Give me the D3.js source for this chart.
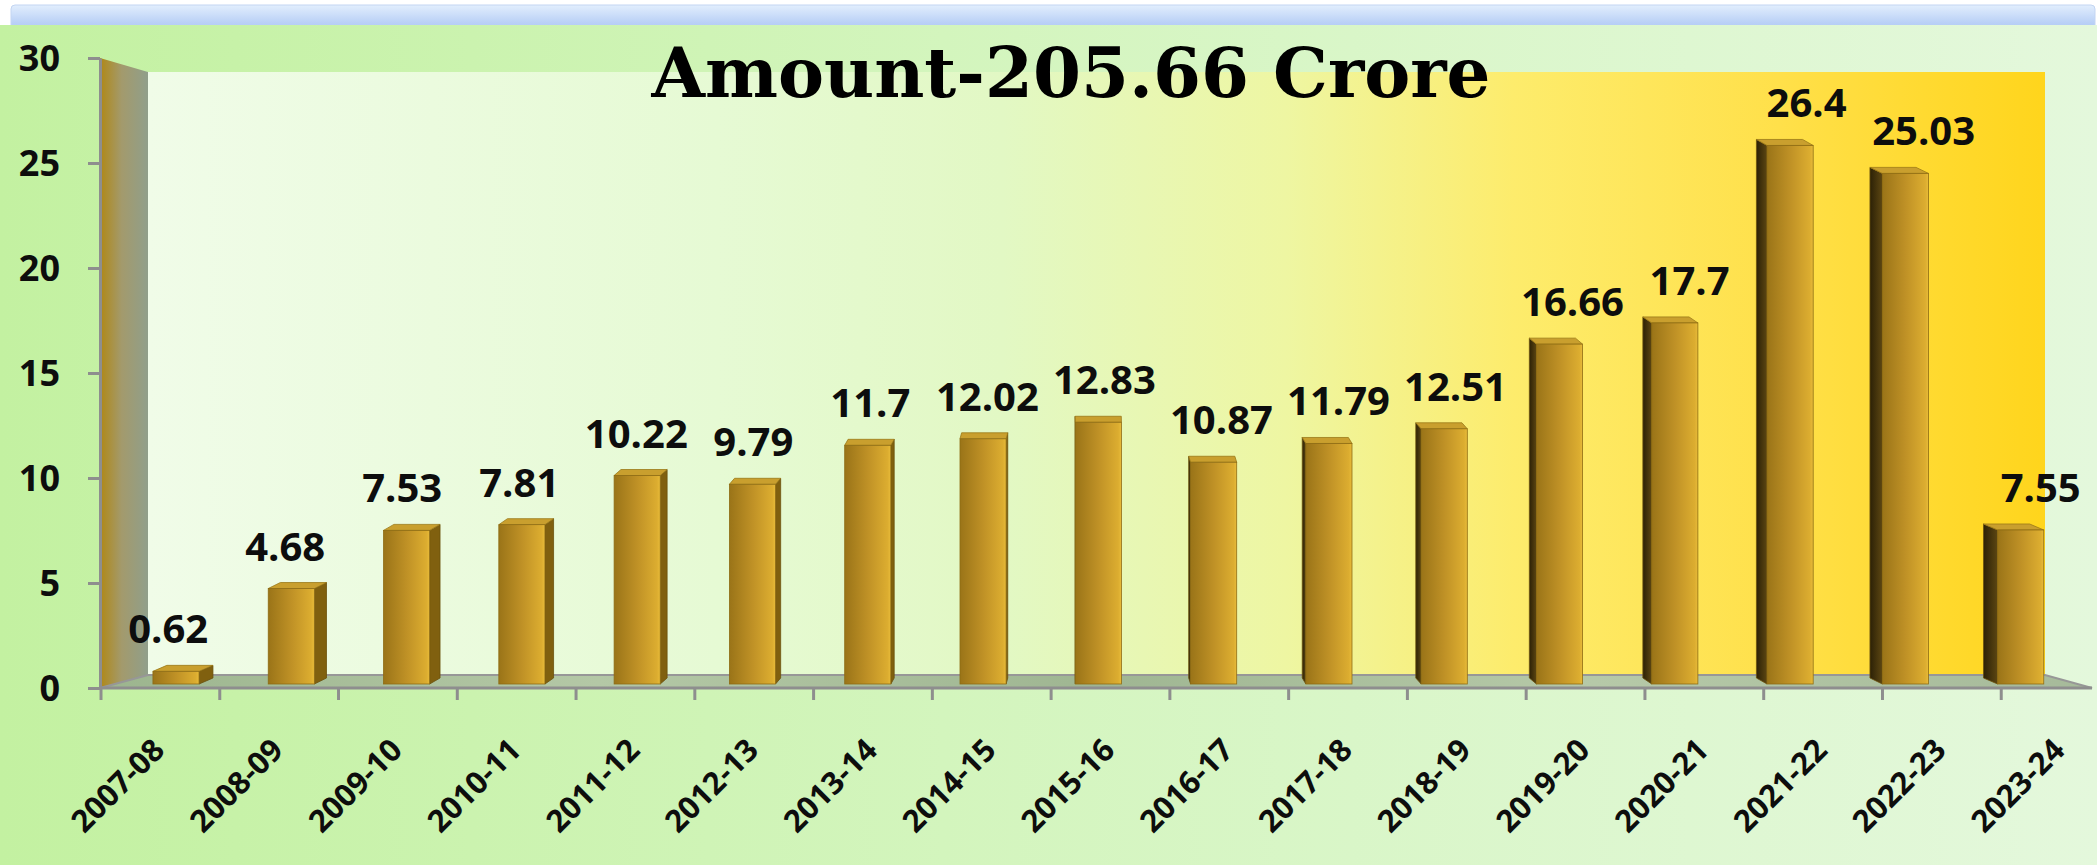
<!DOCTYPE html>
<html>
<head>
<meta charset="utf-8">
<script src="https://cdn.jsdelivr.net/npm/d3@7"></script>
<style>
    body { margin: 0; background: #ffffff; overflow: hidden; }
    .tick-label, .bar-label { font-family: "Open Sans", "Noto Sans", sans-serif; font-weight: 700; fill: #0d0d0d; }
    .chart-title { font-family: "DejaVu Serif", serif; font-weight: 700; fill: #000; }
</style>
</head>
<body>
<div id="chart"></div>
<script>
const years = ["2007-08", "2008-09", "2009-10", "2010-11", "2011-12", "2012-13", "2013-14", "2014-15", "2015-16",
    "2016-17", "2017-18", "2018-19", "2019-20", "2020-21", "2021-22", "2022-23", "2023-24"];
const amounts = [0.62, 4.68, 7.53, 7.81, 10.22, 9.79, 11.7, 12.02, 12.83, 10.87, 11.79, 12.51, 16.66, 17.7, 26.4, 25.03, 7.55];
const yTicks = [0, 5, 10, 15, 20, 25, 30];
const chartTitle = "Amount-205.66 Crore";

class Column3DChart {
    constructor(_config, _data) {
        this.config = _config;
        this.data = _data;
        this.InitVis();
    }

    AddGradient(id, stops, x2 = "100%", y2 = "0%") {
        const grad = this.defs.append("linearGradient")
            .attr("id", id)
            .attr("x1", "0%").attr("y1", "0%")
            .attr("x2", x2).attr("y2", y2);
        stops.forEach(([o, c]) => grad.append("stop").attr("offset", o).attr("stop-color", c));
    }

    InitVis() {
        const vis = this;

        vis.width = vis.config.width;
        vis.height = vis.config.height;

        vis.svg = d3.select(vis.config.parentElement).append("svg")
            .attr("width", vis.width)
            .attr("height", vis.height);

        vis.defs = vis.svg.append("defs");
        vis.AddGradient("blueStrip", [[0, "#e2eefd"], [0.45, "#b9d0f6"], [1, "#a2bef0"]], "0%", "100%");
        vis.AddGradient("chartArea", [[0, "#c3f1a1"], [0.45, "#d3f5bd"], [1, "#e4f8dc"]]);
        vis.AddGradient("backWall", [[0, "#f0fce8"], [0.3, "#e6fad4"], [0.45, "#e2f8c4"],
            [0.6, "#eef6a2"], [0.72, "#fdec6c"], [0.86, "#ffe04a"], [1, "#ffd51c"]]);
        vis.AddGradient("sideWall", [[0, "#b08816"], [0.45, "#a39a6c"], [1, "#909f8b"]]);
        vis.AddGradient("floor", [[0, "#9cb58e"], [0.25, "#b4c8a6"], [0.5, "#9fb692"], [0.75, "#b6c9a8"], [1, "#a6ba9a"]]);
        vis.AddGradient("barFront", [[0, "#9a7418"], [0.5, "#bf9126"], [0.93, "#dcad30"], [1, "#e8bb3a"]]);
        vis.AddGradient("barDark", [[0, "#2c2106"], [1, "#5c4612"]]);

        // 3D box corners (front plane / back plane)
        vis.front = { left: 100, right: 2092, top: 58, base: 688 };
        vis.back = { left: 148, right: 2045, top: 72, base: 675 };
        vis.vanishX = 1090;
        vis.sideK = 0.0152;
        vis.topRise = 6;

        // Scales
        vis.yAxisScale = d3.scaleLinear().domain([0, 30]).range([vis.front.base, vis.front.top]);
        vis.yBar = d3.scaleLinear().domain([0, 30]).range([684, vis.back.top]);
        vis.xFront = d3.scaleBand().domain(years).range([101, 2120]);
        vis.xBar = d3.scaleBand().domain(years).range([118.35, 2078.35]).paddingInner(0.6).paddingOuter(0.3);

        // Background
        vis.svg.append("rect").attr("x", 11).attr("y", 5).attr("width", 2084).attr("height", 40).attr("rx", 4)
            .attr("fill", "url(#blueStrip)").attr("stroke", "#c3d5f2");
        vis.svg.append("rect").attr("x", 0).attr("y", 25).attr("width", vis.width).attr("height", vis.height - 25)
            .attr("fill", "url(#chartArea)");

        const f = vis.front, b = vis.back;
        vis.svg.append("polygon")
            .attr("points", [[b.left, b.top], [b.right, b.top], [b.right, b.base], [b.left, b.base]].join(" "))
            .attr("fill", "url(#backWall)");
        vis.svg.append("polygon")
            .attr("points", [[f.left, f.top], [b.left, b.top], [b.left, b.base], [f.left, f.base]].join(" "))
            .attr("fill", "url(#sideWall)");
        vis.svg.append("polygon")
            .attr("points", [[f.left, f.base], [b.left, b.base], [b.right, b.base], [f.right, f.base]].join(" "))
            .attr("fill", "url(#floor)")
            .attr("stroke", "#979797").attr("stroke-width", 2);
        vis.svg.append("line")
            .attr("x1", f.left).attr("x2", f.right).attr("y1", f.base).attr("y2", f.base)
            .attr("stroke", "#8e8e8e").attr("stroke-width", 3);

        // Axes
        vis.yAxis = d3.axisLeft(vis.yAxisScale).tickValues(yTicks).tickSize(12).tickSizeOuter(0).tickPadding(28);
        vis.xAxis = d3.axisBottom(vis.xFront).tickSize(12).tickSizeOuter(0);
        vis.yAxisGroup = vis.svg.append("g").attr("transform", `translate(${f.left},0)`);
        vis.xAxisGroup = vis.svg.append("g").attr("transform", `translate(0,${f.base})`);

        vis.barGroup = vis.svg.append("g");
        vis.labelGroup = vis.svg.append("g");

        // Title
        vis.svg.append("text")
            .attr("class", "chart-title")
            .attr("x", 1071)
            .attr("y", 97)
            .attr("font-size", 69)
            .style("text-anchor", "middle")
            .text(vis.config.title);

        vis.UpdateVis();
    }

    UpdateVis() {
        const vis = this;
        vis.bars = years.map((year, i) => {
            const x0 = vis.xBar(year);
            const x1 = x0 + vis.xBar.bandwidth();
            const cx = (x0 + x1) / 2;
            return {
                year, value: vis.data[i], x0, x1, cx,
                sx: vis.sideK * (vis.vanishX - cx),
                yt: vis.yBar(vis.data[i]),
                yb: vis.yBar(0),
                labelX: (cx + vis.xFront(year) + vis.xFront.bandwidth() / 2) / 2
            };
        });
        vis.RenderVis();
    }

    RenderVis() {
        const vis = this;
        const r = vis.topRise;

        const g = vis.barGroup.selectAll(".bar")
            .data(vis.bars, d => d.year)
            .join("g")
            .attr("class", "bar");

        // side face (right side left of centre, left side right of centre)
        g.append("polygon")
            .attr("points", d => {
                const ex = d.sx > 0 ? d.x1 : d.x0;
                return [[ex, d.yt], [ex + d.sx, d.yt - r], [ex + d.sx, d.yb - r], [ex, d.yb]].join(" ");
            })
            .attr("fill", d => d.sx > 0 ? "#80600f" : "url(#barDark)")
            .attr("stroke", "#6b500d").attr("stroke-width", 0.8);

        // top face
        g.append("polygon")
            .attr("points", d => [[d.x0, d.yt], [d.x1, d.yt], [d.x1 + d.sx, d.yt - r], [d.x0 + d.sx, d.yt - r]].join(" "))
            .attr("fill", "#c99f2e")
            .attr("stroke", "#9b7818").attr("stroke-width", 0.8);

        // front face
        g.append("rect")
            .attr("x", d => d.x0)
            .attr("y", d => d.yt)
            .attr("width", vis.xBar.bandwidth())
            .attr("height", d => d.yb - d.yt)
            .attr("fill", "url(#barFront)")
            .attr("stroke", "#8e6c14").attr("stroke-width", 0.8);

        // data labels
        vis.labelGroup.selectAll(".bar-label")
            .data(vis.bars, d => d.year)
            .join("text")
            .attr("class", "bar-label")
            .attr("x", d => d.labelX)
            .attr("y", d => d.yt - 28)
            .attr("font-size", 40)
            .style("text-anchor", "middle")
            .text(d => d.value);

        // axes
        vis.yAxisGroup.call(vis.yAxis);
        vis.yAxisGroup.select(".domain").attr("stroke", "#8e8e8e").attr("stroke-width", 3);
        vis.yAxisGroup.selectAll(".tick line").attr("stroke", "#8e8e8e").attr("stroke-width", 3);
        vis.yAxisGroup.selectAll(".tick text")
            .attr("class", "tick-label")
            .attr("font-size", 36)
            .attr("dy", "0.36em");

        vis.xAxisGroup.call(vis.xAxis);
        vis.xAxisGroup.select(".domain").remove();
        const half = vis.xFront.bandwidth() / 2;
        vis.xAxisGroup.selectAll(".tick line")
            .attr("x1", -half).attr("x2", -half)
            .attr("stroke", "#8e8e8e").attr("stroke-width", 3);
        vis.xAxisGroup.selectAll(".tick text")
            .attr("class", "tick-label")
            .attr("font-size", 31)
            .attr("y", 0).attr("dy", 0)
            .style("text-anchor", "end")
            .attr("transform", "translate(6,64) rotate(-45)");
    }
}

new Column3DChart({ parentElement: "#chart", width: 2097, height: 865, title: chartTitle }, amounts);
</script>
</body>
</html>
